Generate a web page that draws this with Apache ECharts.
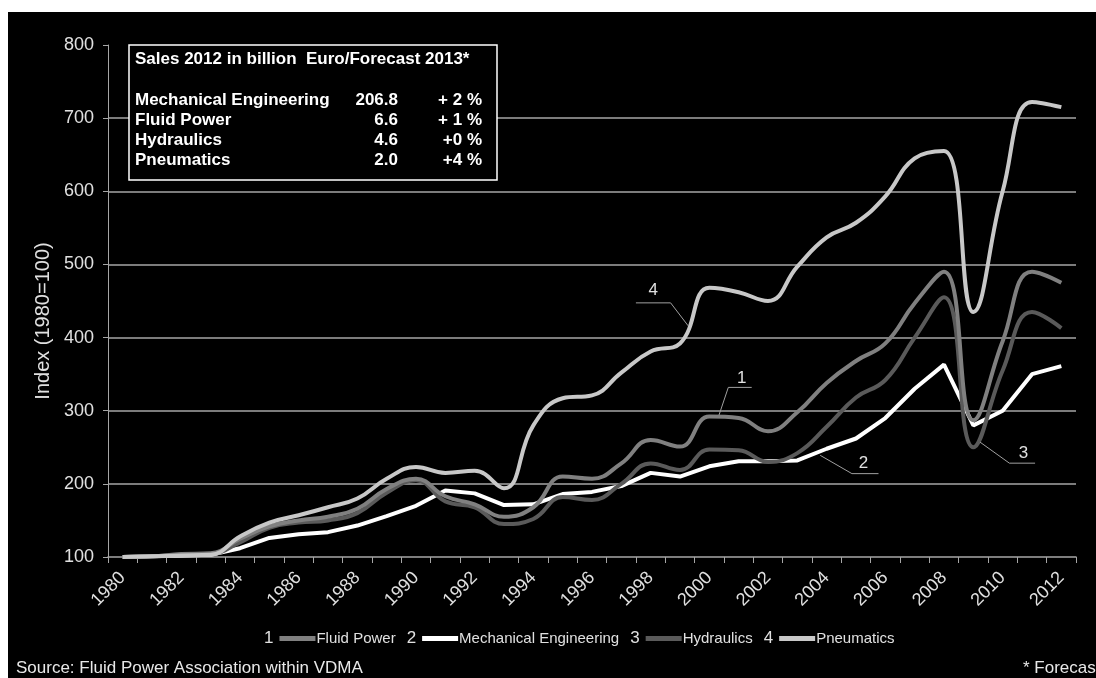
<!DOCTYPE html>
<html>
<head>
<meta charset="utf-8">
<script src="https://cdn.jsdelivr.net/npm/echarts@6/dist/echarts.min.js"></script>
<style>
  html, body { margin: 0; padding: 0; background: #fff; width: 1096px; height: 678px; overflow: hidden; }
  #chart { position: absolute; left: 8px; top: 12px; width: 1088px; height: 666px; }
</style>
</head>
<body>
<div id="chart"></div>
<script>
// Index of sales, 1980 = 100
const years = ['1980','1981','1982','1983','1984','1985','1986','1987','1988','1989',
  '1990','1991','1992','1993','1994','1995','1996','1997','1998','1999',
  '2000','2001','2002','2003','2004','2005','2006','2007','2008','2009',
  '2010','2011','2012'];

const fluidPower = [100,101,104,105,125,142,150,155,166,193,207,183,172,155,168,210,207,228,260,251,
  292,290,272,298,338,368,392,447,490,287,395,490,475];
const mechEngineering = [100,101,102,103,112,126,131,134,143,156,170,191,187,171,172,186,189,197,215,210,
  224,231,231,232,248,262,290,330,363,280,300,350,361];
const hydraulics = [100,101,103,104,120,140,147,150,160,188,205,176,168,145,152,182,178,200,228,219,
  247,246,230,242,278,318,342,400,455,250,355,435,413];
const pneumatics = [100,101,102,103,128,147,157,168,180,207,223,215,218,194,280,317,321,352,381,392,
  468,462,450,497,537,557,593,645,655,435,600,722,715];

const yTicks = { min: 100, max: 800, step: 100 };

// Legend order and numbering
const legendOrder = ['Fluid Power', 'Mechanical Engineering', 'Hydraulics', 'Pneumatics'];
const lineColors = {
  'Fluid Power': '#808080',
  'Mechanical Engineering': '#ffffff',
  'Hydraulics': '#5a5a5a',
  'Pneumatics': '#c8c8c8'
};

// Sales table in the inset box
const salesTitle = 'Sales 2012 in billion  Euro/Forecast 2013*';
const salesNames = ['Mechanical Engineering', 'Fluid Power', 'Hydraulics', 'Pneumatics'];
const salesValues = ['206.8', '6.6', '4.6', '2.0'];
const salesChange = ['+ 2 %', '+ 1 %', '+0 %', '+4 %'];

// Numbered callouts: which series, where along the x index, and value on the curve
const callouts = [
  { label: '4', series: 'Pneumatics', at: 19.28, value: 416, elbow: [-17.6, -23], end: [-52.3, -23], text: [-35, -36] },
  { label: '1', series: 'Fluid Power', at: 20.33, value: 294, elbow: [9.3, -27.7], end: [32.7, -27.7], text: [22.7, -37] },
  { label: '2', series: 'Mechanical Engineering', at: 23.78, value: 239, elbow: [31.7, 18.3], end: [58.3, 18.3], text: [43.3, 8] },
  { label: '3', series: 'Hydraulics', at: 29.23, value: 257, elbow: [29.3, 21], end: [55, 21], text: [43.3, 11] }
];

const FONT = "'Liberation Sans', Arial, sans-serif";
const TEXT = '#e0e0e0';
const AXIS = '#a6a6a6';

const chart = echarts.init(document.getElementById('chart'), null, { renderer: 'canvas' });

function lineSeries(name, data, smooth, z) {
  return {
    name, type: 'line', data, smooth, z,
    showSymbol: false, symbol: 'none',
    lineStyle: { color: lineColors[name], width: 4 },
    itemStyle: { color: lineColors[name] },
    emphasis: { disabled: true },
    animation: false
  };
}

const rich = {
  n: { fontSize: 17, color: TEXT, fontFamily: FONT, padding: [0, 6, 0, 0] },
  t: { fontSize: 15, color: TEXT, fontFamily: FONT, padding: [0, 0, 0, 1] }
};
legendOrder.forEach((nm, i) => {
  rich['s' + (i + 1)] = { width: 36, height: 5, backgroundColor: lineColors[nm] };
});

chart.setOption({
  backgroundColor: '#000000',
  animation: false,
  grid: { left: 100, right: 20, top: 33, bottom: 121, containLabel: false },
  xAxis: {
    type: 'category', data: years, boundaryGap: true,
    axisLine: { show: true, lineStyle: { color: AXIS, width: 1.5 } },
    axisTick: { show: true, interval: 0, length: 6, lineStyle: { color: AXIS, width: 1 } },
    axisLabel: { interval: 1, rotate: 45, color: TEXT, fontSize: 18, margin: 18, fontFamily: FONT },
    splitLine: { show: false }
  },
  yAxis: {
    type: 'value', min: yTicks.min, max: yTicks.max, interval: yTicks.step,
    name: 'Index (1980=100)', nameLocation: 'middle', nameGap: 50, nameRotate: 90,
    nameTextStyle: { color: TEXT, fontSize: 20, fontFamily: FONT, padding: [0, 40, 0, 0] },
    axisLine: { show: true, lineStyle: { color: AXIS, width: 1 } },
    axisTick: { show: true, length: 5, lineStyle: { color: AXIS, width: 1 } },
    axisLabel: { color: TEXT, fontSize: 18, margin: 14, fontFamily: FONT },
    splitLine: { show: true, showMinLine: false, showMaxLine: false, lineStyle: { color: AXIS, width: 1.5 } }
  },
  legend: {
    data: legendOrder,
    left: 246, top: 613,
    icon: 'rect', itemWidth: 0, itemHeight: 0, itemGap: 6,
    itemStyle: { opacity: 0 },
    selectedMode: false,
    formatter: (name) => {
      const k = legendOrder.indexOf(name) + 1;
      return '{n|' + k + '}{s' + k + '|}{t|' + name + '}';
    },
    textStyle: { color: TEXT, fontSize: 15, fontFamily: FONT, rich }
  },
  series: [
    lineSeries('Mechanical Engineering', mechEngineering, false, 3),
    lineSeries('Hydraulics', hydraulics, 0.45, 4),
    lineSeries('Fluid Power', fluidPower, 0.45, 5),
    lineSeries('Pneumatics', pneumatics, 0.45, 6)
  ]
});

// Callouts and inset table, placed from the axes' own pixel mapping
function toPixel(at, value) {
  const i0 = Math.floor(at), f = at - i0;
  const a = chart.convertToPixel({ gridIndex: 0 }, [i0, value]);
  const b = chart.convertToPixel({ gridIndex: 0 }, [Math.min(i0 + 1, years.length - 1), value]);
  return [a[0] + (b[0] - a[0]) * f, a[1]];
}

const graphics = [];

callouts.forEach((c) => {
  const p = toPixel(c.at, c.value);
  const elbow = [p[0] + c.elbow[0], p[1] + c.elbow[1]];
  const end = [p[0] + c.end[0], p[1] + c.end[1]];
  graphics.push({
    type: 'polyline', z: 50, silent: true,
    shape: { points: [p, elbow, end] },
    style: { stroke: '#a0a0a0', lineWidth: 1, fill: null }
  });
  graphics.push({
    type: 'text', z: 50, silent: true,
    x: p[0] + c.text[0], y: p[1] + c.text[1],
    style: { text: c.label, fill: TEXT, font: '17px ' + FONT, align: 'center', verticalAlign: 'middle',
      textAlign: 'center', textVerticalAlign: 'middle' }
  });
});

// Inset box with the sales table
const box = { x: 121, y: 33, w: 368, h: 135 };
graphics.push({
  type: 'rect', z: 60, silent: true,
  shape: { x: box.x, y: box.y, width: box.w, height: box.h },
  style: { fill: '#000', stroke: '#ffffff', lineWidth: 1.5 }
});
function boxText(text, x, y, align) {
  graphics.push({
    type: 'text', z: 61, silent: true, x, y,
    style: { text, fill: '#ffffff', font: 'bold 17px ' + FONT, align, verticalAlign: 'middle',
      textAlign: align, textVerticalAlign: 'middle' }
  });
}
boxText(salesTitle, box.x + 6, box.y + 14, 'left');
salesNames.forEach((nm, i) => {
  const y = box.y + 55 + i * 20;
  boxText(nm, box.x + 6, y, 'left');
  boxText(salesValues[i], box.x + 269, y, 'right');
  boxText(salesChange[i], box.x + 353, y, 'right');
});

// Footer notes
graphics.push({
  type: 'text', z: 50, silent: true, x: 8, y: 656,
  style: { text: 'Source: Fluid Power Association within VDMA', fill: '#e8e8e8', font: '17px ' + FONT,
    align: 'left', verticalAlign: 'middle', textAlign: 'left', textVerticalAlign: 'middle' }
});
graphics.push({
  type: 'text', z: 50, silent: true, x: 1015, y: 656,
  style: { text: '* Forecast', fill: '#e8e8e8', font: '17px ' + FONT,
    align: 'left', verticalAlign: 'middle', textAlign: 'left', textVerticalAlign: 'middle' }
});

chart.setOption({ graphic: graphics });
</script>
</body>
</html>
